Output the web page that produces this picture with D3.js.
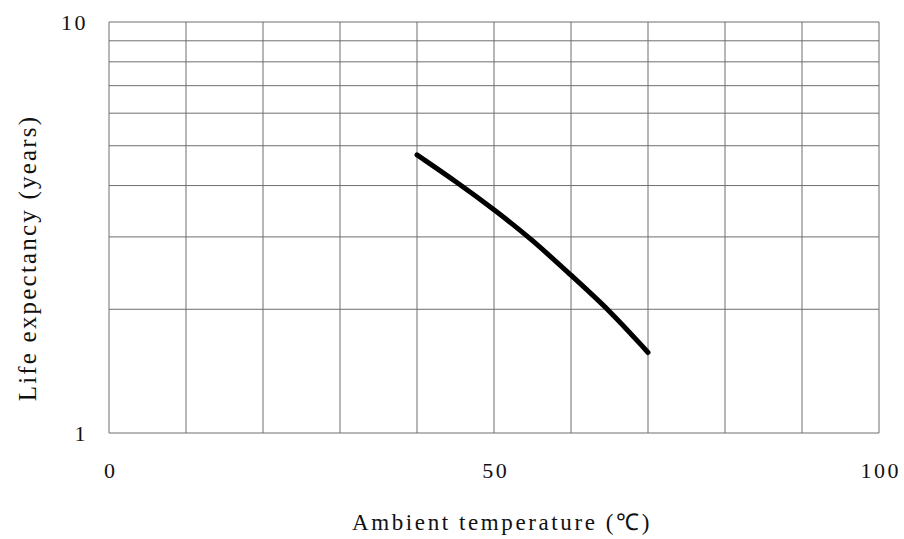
<!DOCTYPE html>
<html>
<head>
<meta charset="utf-8">
<script src="https://cdn.jsdelivr.net/npm/d3@7"></script>
<style>
  body { margin: 0; background: #fff; }
  text { font-family: "Liberation Serif", "Times New Roman", serif; fill: #111; }
</style>
</head>
<body>
<script>
var temps = [40, 45, 50, 55, 60, 65, 70],
  lifeYears = [4.75, 4.1, 3.5, 2.95, 2.42, 1.99, 1.57],
  xTicks = [0, 50, 100],
  yTicks = [1, 10],
  xGrid = d3.range(0, 101, 10),
  yGrid = [1, 2, 3, 4, 5, 6, 7, 8, 9, 10];

var width = 904,
  height = 539,
  margin = {left: 109, top: 22, right: 25, bottom: 106},
  svg = d3.select("body").append("svg")
    .attr("width", width)
    .attr("height", height);

var x = d3.scaleLinear().domain([0, 100]).range([margin.left, width - margin.right]),
  y = d3.scaleLog().domain([1, 10]).range([height - margin.bottom, margin.top]);

// grid, the frame is just the outer grid lines
svg.append("g").selectAll("line")
  .data(xGrid)
  .enter().append("line")
  .attr("x1", function(d){ return x(d) }).attr("x2", function(d){ return x(d) })
  .attr("y1", y(1)).attr("y2", y(10))
  .attr("stroke", "#6e6e6e").attr("stroke-width", 1);

svg.append("g").selectAll("line")
  .data(yGrid)
  .enter().append("line")
  .attr("x1", x(0)).attr("x2", x(100))
  .attr("y1", function(d){ return y(d) }).attr("y2", function(d){ return y(d) })
  .attr("stroke", "#6e6e6e").attr("stroke-width", 1);

// tick labels
var xAxis = svg.append("g")
  .attr("transform", "translate(0," + y(1) + ")")
  .call(d3.axisBottom(x).tickValues(xTicks).tickSize(0).tickPadding(29).tickFormat(d3.format("d")));
var yAxis = svg.append("g")
  .attr("transform", "translate(" + x(0) + ",0)")
  .call(d3.axisLeft(y).tickValues(yTicks).tickSize(0).tickPadding(21).tickFormat(d3.format("d")));
[xAxis, yAxis].forEach(function(a){
  a.select(".domain").remove();
  a.selectAll("text")
    .style("font-family", '"Liberation Serif", serif')
    .style("font-size", "22px")
    .style("letter-spacing", "2.5px")
    .attr("fill", "#111");
});
xAxis.selectAll("text").attr("dx", "1.2px");

// curve
var line = d3.line()
  .x(function(d){ return x(d[0]) })
  .y(function(d){ return y(d[1]) })
  .curve(d3.curveBasis);

svg.append("path")
  .datum(d3.zip(temps, lifeYears))
  .attr("d", line)
  .attr("fill", "none")
  .attr("stroke", "#000")
  .attr("stroke-width", 5)
  .attr("stroke-linecap", "round");

// axis titles
svg.append("text")
  .attr("x", 502).attr("y", 530)
  .attr("text-anchor", "middle")
  .style("font-size", "23px")
  .style("letter-spacing", "2.6px")
  .text("Ambient temperature (\u2103)");

svg.append("text")
  .attr("transform", "translate(36,258) rotate(-90)")
  .attr("text-anchor", "middle")
  .style("font-size", "25px")
  .style("letter-spacing", "2.2px")
  .text("Life expectancy (years)");
</script>
</body>
</html>
